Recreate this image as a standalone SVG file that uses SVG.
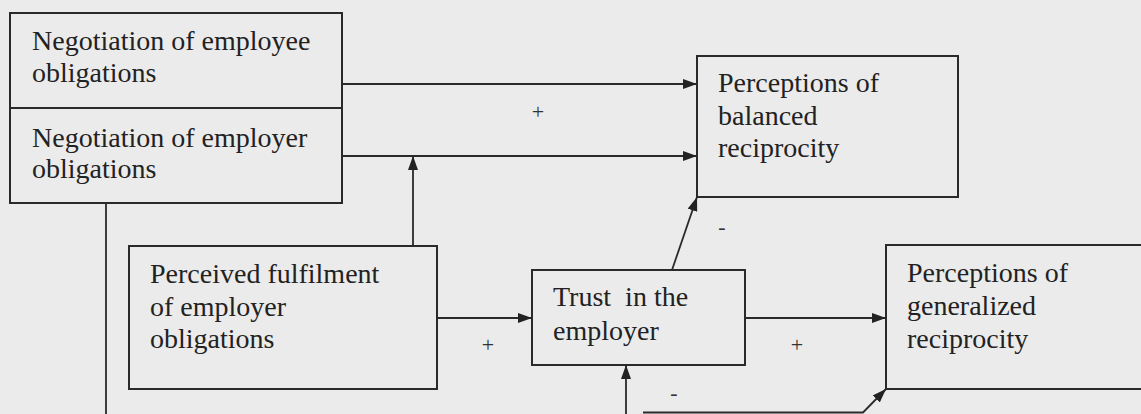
<svg xmlns="http://www.w3.org/2000/svg" width="1141" height="414" viewBox="0 0 1141 414">
<defs>
<style>
.bg{fill:#ebebeb}
.box{fill:none;stroke:#2a2a2a;stroke-width:2}
.t{font-family:"Liberation Serif","Times New Roman",serif;font-size:28px;fill:#222;white-space:pre}
.s{font-family:"Liberation Serif","Times New Roman",serif;font-size:22px;fill:#333;text-anchor:middle}
.c{fill:none;stroke:#2a2a2a;stroke-width:1.8}
.a{fill:none;stroke:#2a2a2a;stroke-width:1.8;marker-end:url(#ah)}
</style>
<marker id="ah" viewBox="0 0 14 10" refX="14" refY="5" markerWidth="14" markerHeight="10" markerUnits="userSpaceOnUse" orient="auto">
<path d="M0,0 L14,5 L0,10 Z" fill="#222"/>
</marker>
</defs>
<rect class="bg" x="0" y="0" width="1141" height="414"/>

<g id="negotiation">
<rect class="box" x="10" y="13" width="332" height="190"/>
<line class="box" x1="10" y1="108" x2="342" y2="108"/>
<text class="t" x="32" y="50">Negotiation of employee</text>
<text class="t" x="32" y="82">obligations</text>
<text class="t" x="32" y="147">Negotiation of employer</text>
<text class="t" x="32" y="178">obligations</text>
</g>

<g id="balanced">
<rect class="box" x="697" y="56" width="261" height="141"/>
<text class="t" x="718" y="92">Perceptions of</text>
<text class="t" x="718" y="125">balanced</text>
<text class="t" x="718" y="157">reciprocity</text>
</g>

<g id="fulfilment">
<rect class="box" x="129" y="246" width="308" height="143"/>
<text class="t" x="150" y="283">Perceived fulfilment</text>
<text class="t" x="150" y="316">of employer</text>
<text class="t" x="150" y="348">obligations</text>
</g>

<g id="trust">
<rect class="box" x="532" y="270" width="213" height="95"/>
<text class="t" x="553" y="306">Trust  in the</text>
<text class="t" x="553" y="340">employer</text>
</g>

<g id="generalized">
<rect class="box" x="886" y="245" width="270" height="144"/>
<text class="t" x="907" y="282">Perceptions of</text>
<text class="t" x="907" y="315">generalized</text>
<text class="t" x="907" y="348">reciprocity</text>
</g>

<g id="connectors">
<line class="a" x1="342" y1="84" x2="697" y2="84"/>
<line class="a" x1="342" y1="156" x2="697" y2="156"/>
<line class="a" x1="413" y1="246" x2="413" y2="156"/>
<line class="a" x1="437" y1="318" x2="532" y2="318"/>
<line class="a" x1="745" y1="318" x2="886" y2="318"/>
<line class="a" x1="672" y1="270" x2="697" y2="197"/>
<line class="c" x1="106" y1="203" x2="106" y2="414"/>
<line class="a" x1="626" y1="414" x2="626" y2="365"/>
<polyline class="a" points="643,412.5 863,412.5 886,389"/>
<text class="s" x="538" y="119">+</text>
<text class="s" x="488" y="352">+</text>
<text class="s" x="797" y="352">+</text>
<text class="s" x="722" y="234">-</text>
<text class="s" x="674" y="400">-</text>
</g>
</svg>
